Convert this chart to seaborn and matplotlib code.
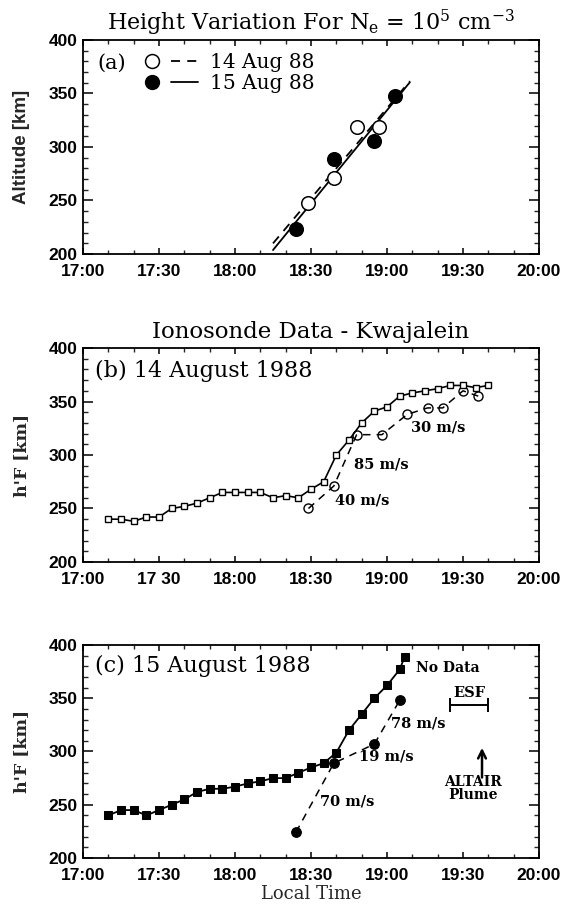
import numpy as np
import pandas as pd
import matplotlib
matplotlib.use("Agg")
import matplotlib.pyplot as plt
import seaborn as sns
from matplotlib.lines import Line2D
from matplotlib.legend_handler import HandlerTuple
from matplotlib.ticker import MultipleLocator

# ---------------- data ----------------
tick_labels_ac = ["17:00", "17:30", "18:00", "18:30", "19:00", "19:30", "20:00"]
tick_labels_b = ["17:00", "17 30", "18:00", "18:30", "19:00", "19:30", "20:00"]

# panel (a): height of Ne = 1e5 cm^-3
a_times_14 = ["18:29", "18:39", "18:48", "18:57"]
a_alt_14 = [248, 271, 319, 319]
a_times_15 = ["18:24", "18:39", "18:55", "19:03"]
a_alt_15 = [223, 289, 306, 348]
a_fit_span = ["18:15", "19:09"]

# panel (b): ionosonde 14 Aug 1988
b_sq_times = ["17:10", "17:15", "17:20", "17:25", "17:30", "17:35", "17:40", "17:45",
              "17:50", "17:55", "18:00", "18:05", "18:10", "18:15", "18:20", "18:25",
              "18:30", "18:35", "18:40", "18:45", "18:50", "18:55", "19:00", "19:05",
              "19:10", "19:15", "19:20", "19:25", "19:30", "19:35", "19:40"]
b_sq_alt = [240, 240, 238, 242, 242, 250, 252, 255, 260, 265, 265, 265, 265, 260, 262, 260,
            268, 275, 300, 314, 330, 341, 345, 355, 358, 360, 362, 365, 365, 363, 365]
b_circ_times = ["18:29", "18:39", "18:48", "18:58", "19:08", "19:16", "19:22", "19:30", "19:36"]
b_circ_alt = [250, 271, 319, 319, 338, 344, 344, 360, 355]
b_speed_labels = ["40 m/s", "85 m/s", "30 m/s"]
b_speed_times = ["18:39.6", "18:46.8", "19:09.4"]
b_speed_alt = [257, 291, 326]

# panel (c): ionosonde 15 Aug 1988
c_sq_times = ["17:10", "17:15", "17:20", "17:25", "17:30", "17:35", "17:40", "17:45",
              "17:50", "17:55", "18:00", "18:05", "18:10", "18:15", "18:20", "18:25",
              "18:30", "18:35", "18:40", "18:45", "18:50", "18:55", "19:00", "19:05", "19:07"]
c_sq_alt = [240, 245, 245, 240, 245, 250, 255, 262, 265, 265, 267, 270, 272, 275, 275, 280,
            285, 289, 299, 320, 335, 350, 362, 377, 389]
c_circ_times = ["18:24", "18:39", "18:55", "19:05"]
c_circ_alt = [224, 289, 307, 348]
c_speed_labels = ["70 m/s", "19 m/s", "78 m/s"]
c_speed_times = ["18:33.6", "18:48.8", "19:01.4"]
c_speed_alt = [253, 295, 326]
esf_span = ["19:25", "19:40"]
esf_alt = 344
altair_time = "19:37.5"
altair_arrow_alt = [273, 306]


def to_min(hhmm):
    h, m = hhmm.split(":")
    return (int(h) - 17) * 60 + float(m)


def mins(lst):
    return np.array([to_min(s) for s in lst])


# ---------------- style ----------------
sns.set_style("ticks")
plt.rcParams.update({
    "font.family": ["DejaVu Serif", "DejaVu Sans"],
    "mathtext.fontset": "dejavuserif",
    "axes.linewidth": 1.3,
    "xtick.direction": "in",
    "ytick.direction": "in",
    "xtick.top": True,
    "ytick.right": True,
    "axes.edgecolor": "black",
    "text.color": "black",
})

SERIF = "DejaVu Serif"
TICKFONT = dict(family="Liberation Sans", weight="bold", size=12.5)

fig = plt.figure(figsize=(5.69, 9.07), dpi=100)
L, W = 0.1459, 0.8014
ax_a = fig.add_axes([L, 0.7200, W, 0.2359])
ax_b = fig.add_axes([L, 0.3804, W, 0.2359])
ax_c = fig.add_axes([L, 0.0540, W, 0.2349])

tick_pos = np.arange(0, 181, 30)


def style_axis(ax, labels):
    ax.set_xlim(0, 180)
    ax.set_ylim(200, 400)
    ax.set_xticks(tick_pos)
    ax.set_xticklabels(labels, fontdict=TICKFONT)
    ax.set_yticks(np.arange(200, 401, 50))
    ax.set_yticklabels([str(v) for v in range(200, 401, 50)], fontdict=TICKFONT)
    ax.xaxis.set_minor_locator(MultipleLocator(10))
    ax.yaxis.set_minor_locator(MultipleLocator(10))
    ax.tick_params(axis="x", which="major", length=4, width=1.1, pad=7.5, colors="black")
    ax.tick_params(axis="x", which="minor", length=3, width=1.0)
    ax.tick_params(axis="y", which="major", length=7, width=1.1, pad=4, colors="black")
    ax.tick_params(axis="y", which="minor", length=3.5, width=1.0)
    for s in ax.spines.values():
        s.set_visible(True)
        s.set_linewidth(1.3)
    ax.set_xlabel("")
    ax.set_ylabel("")


dash = (0, (5, 4))
YLAB_X = -0.116

# ---------------- panel (a) ----------------
t14, t15 = mins(a_times_14), mins(a_times_15)
span = mins(a_fit_span)
fit14 = np.polyfit(t14, a_alt_14, 1)
fit15 = np.polyfit(t15, a_alt_15, 1)
sns.lineplot(x=span, y=np.polyval(fit14, span), ax=ax_a, color="black", lw=1.3,
             linestyle=dash, estimator=None, sort=False, zorder=2)
sns.lineplot(x=span, y=np.polyval(fit15, span), ax=ax_a, color="black", lw=1.3,
             estimator=None, sort=False, zorder=2)
sns.scatterplot(x=t14, y=a_alt_14, ax=ax_a, marker="o", s=95, facecolor="white",
                edgecolor="black", linewidth=1.1, zorder=3)
sns.scatterplot(x=t15, y=a_alt_15, ax=ax_a, marker="o", s=95, color="black",
                edgecolor="black", linewidth=1.1, zorder=3)
style_axis(ax_a, tick_labels_ac)
ax_a.set_title(r"Height Variation For N$_\mathregular{e}$ = 10$^\mathregular{5}$ cm$^\mathregular{-3}$",
               fontsize=16, family=SERIF, pad=7)
ax_a.set_ylabel("Altitude [km]", family="Liberation Sans", weight="bold", fontsize=13.5)
ax_a.yaxis.set_label_coords(YLAB_X, 0.5)
ax_a.text(5.5, 378, "(a)", family=SERIF, fontsize=15, va="center", ha="left")

h14 = (Line2D([], [], marker="o", ms=10, mfc="white", mec="black", mew=1.1, ls="none"),
       Line2D([], [], color="black", lw=1.3, ls=dash))
h15 = (Line2D([], [], marker="o", ms=10, mfc="black", mec="black", ls="none"),
       Line2D([], [], color="black", lw=1.3))
ax_a.legend([h14, h15], ["14 Aug 88", "15 Aug 88"],
            handler_map={tuple: HandlerTuple(ndivide=None, pad=0.3)},
            loc="upper left", bbox_to_anchor=(0.123, 0.94), frameon=False,
            handlelength=2.9, handletextpad=0.6, labelspacing=0.12, borderpad=0,
            borderaxespad=0, prop=dict(family=SERIF, size=14.5), numpoints=1)

# ---------------- panel (b) ----------------
sns.lineplot(x=mins(b_sq_times), y=b_sq_alt, ax=ax_b, color="black", lw=1.2,
             marker="s", ms=5, mfc="white", mec="black", mew=1.0,
             estimator=None, sort=False, zorder=3)
sns.lineplot(x=mins(b_circ_times), y=b_circ_alt, ax=ax_b, color="black", lw=1.1,
             linestyle=dash, marker="o", ms=6.5, mfc="none", mec="black", mew=1.0,
             estimator=None, sort=False, zorder=2)
style_axis(ax_b, tick_labels_b)
ax_b.set_title("Ionosonde Data - Kwajalein", fontsize=16.5, family=SERIF, pad=7)
ax_b.set_ylabel("h'F [km]", family=SERIF, weight="bold", fontsize=12.5)
ax_b.yaxis.set_label_coords(YLAB_X, 0.5)
ax_b.text(4.8, 379, "(b) 14 August 1988", family=SERIF, fontsize=16, va="center", ha="left")
for lab, t, a in zip(b_speed_labels, mins(b_speed_times), b_speed_alt):
    ax_b.text(t, a, lab, family=SERIF, weight="bold", fontsize=10.5, va="center", ha="left")

# ---------------- panel (c) ----------------
sns.lineplot(x=mins(c_sq_times), y=c_sq_alt, ax=ax_c, color="black", lw=1.3,
             marker="s", ms=6, mfc="black", mec="black",
             estimator=None, sort=False, zorder=3)
sns.lineplot(x=mins(c_circ_times), y=c_circ_alt, ax=ax_c, color="black", lw=1.1,
             linestyle=dash, marker="o", ms=7, mfc="black", mec="black",
             estimator=None, sort=False, zorder=2)
style_axis(ax_c, tick_labels_ac)
ax_c.set_ylabel("h'F [km]", family=SERIF, weight="bold", fontsize=12.5)
ax_c.yaxis.set_label_coords(YLAB_X, 0.5)
ax_c.set_xlabel("Local Time", family=SERIF, fontsize=13, labelpad=1)
ax_c.text(4.8, 380, "(c) 15 August 1988", family=SERIF, fontsize=16, va="center", ha="left")
for lab, t, a in zip(c_speed_labels, mins(c_speed_times), c_speed_alt):
    ax_c.text(t, a, lab, family=SERIF, weight="bold", fontsize=10.5, va="center", ha="left")
ax_c.text(to_min("19:11.3"), 378, "No Data", family=SERIF, weight="bold", fontsize=10,
          va="center", ha="left")
es = mins(esf_span)
ax_c.errorbar([es.mean()], [esf_alt], xerr=[[es.mean() - es[0]], [es[1] - es.mean()]],
              fmt="none", ecolor="black", elinewidth=1.4, capsize=5, capthick=1.4)
ax_c.text(es.mean(), esf_alt + 4, "ESF", family=SERIF, weight="bold", fontsize=10.5,
          ha="center", va="bottom")
at = to_min(altair_time)
ax_c.annotate("", xy=(at, altair_arrow_alt[1]), xytext=(at, altair_arrow_alt[0]),
              arrowprops=dict(arrowstyle="->", lw=1.8, color="black", mutation_scale=14))
ax_c.text(at - 3.5, 265, "ALTAIR\nPlume", family=SERIF, weight="bold", fontsize=10,
          ha="center", va="center", linespacing=0.9)

fig.savefig("out.png", dpi=100, facecolor="white")
